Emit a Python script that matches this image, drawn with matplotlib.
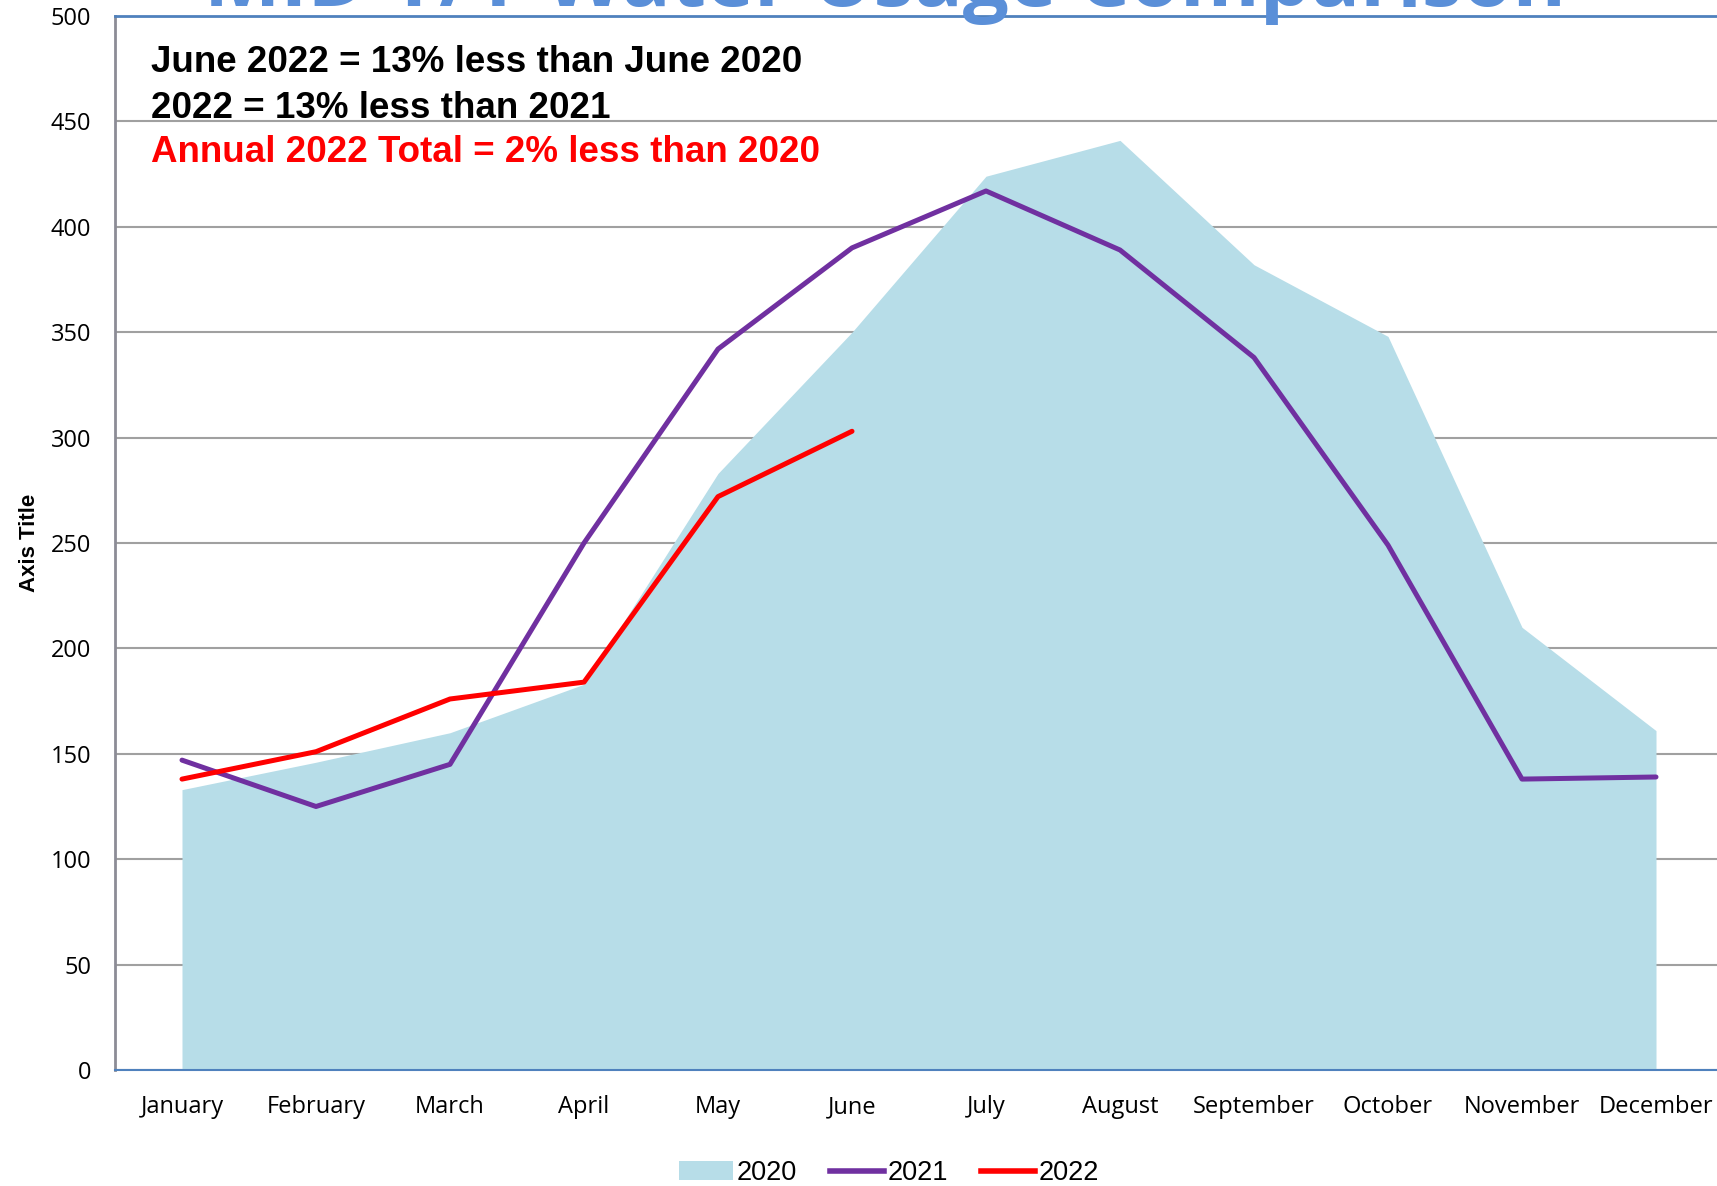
import matplotlib
matplotlib.use("Agg")
import matplotlib.pyplot as plt
from matplotlib.patches import Patch
from matplotlib.lines import Line2D

months = ["January", "February", "March", "April", "May", "June", "July",
          "August", "September", "October", "November", "December"]
usage_2020 = [133, 146, 160, 183, 283, 350, 424, 441, 382, 348, 210, 161]
usage_2021 = [147, 125, 145, 250, 342, 390, 417, 389, 338, 249, 138, 139]
usage_2022 = [138, 151, 176, 184, 272, 303]
yticks = [0, 50, 100, 150, 200, 250, 300, 350, 400, 450, 500]
title = "MID Y/Y Water Usage Comparison"
notes = ["June 2022 = 13% less than June 2020", "2022 = 13% less than 2021",
         "Annual 2022 Total = 2% less than 2020"]
note_colors = ["black", "black", "#FF0000"]

W, H = 1717, 1186
fig = plt.figure(figsize=(W / 100, H / 100), dpi=100)
left, right, top, bottom = 115, 1723, 16, 1070
ax = fig.add_axes([left / W, 1 - bottom / H, (right - left) / W, (bottom - top) / H])

x = list(range(len(months)))
ax.fill_between(x, usage_2020, 0, color="#B7DDE8", linewidth=0, zorder=2)
ax.plot(x, usage_2021, color="#7030A0", linewidth=3.6, zorder=3, solid_capstyle="round")
ax.plot(x[:len(usage_2022)], usage_2022, color="#FF0000", linewidth=3.6, zorder=4,
        solid_capstyle="round")

ax.set_xlim(-0.5, 11.5)
ax.set_ylim(0, 500)
ax.set_yticks(yticks)
ax.set_xticks(x)
ax.set_xticklabels(months, fontsize=17, family="Open Sans")
ax.set_yticklabels([str(v) for v in yticks], fontsize=17, family="Open Sans")
ax.tick_params(axis="x", length=0, pad=18)
ax.tick_params(axis="y", length=0, pad=17)
ax.grid(axis="y", color="#A0A0A0", linewidth=1.5, zorder=1)
ax.set_axisbelow(True)
ax.spines["right"].set_visible(False)
ax.spines["left"].set_color("#8C8C96")
ax.spines["left"].set_linewidth(2)
ax.spines["bottom"].set_color("#4F81BD")
ax.spines["bottom"].set_linewidth(1.5)
ax.spines["top"].set_color("#4F81BD")
ax.spines["top"].set_linewidth(2)
ax.set_ylabel("Axis Title", fontsize=16, fontweight="bold", family="Liberation Sans")
ax.yaxis.set_label_coords(-75 / (right - left), 0.5)

for i, (t, c) in enumerate(zip(notes, note_colors)):
    fig.text(151 / W, 1 - (63 + 45 * i) / H, t, fontsize=26.5, fontweight="bold",
             family="Liberation Sans", color=c, va="center", ha="left")

tt = fig.text(885 / W, 1 - 6 / H, title, fontsize=60, fontweight="bold",
              family="Open Sans", color="#5A8FD8", ha="center", va="baseline")
fig.canvas.draw()
wpx = tt.get_window_extent().width
tt.set_fontsize(60 * 1363 / wpx)

handles = [Patch(facecolor="#B7DDE8", edgecolor="none", label="2020"),
           Line2D([0], [0], color="#7030A0", linewidth=4, label="2021"),
           Line2D([0], [0], color="#FF0000", linewidth=4, label="2022")]
fig.legend(handles=handles, loc="center", bbox_to_anchor=(889 / W, 1 - 1173 / H), ncol=3,
           frameon=False, prop={"family": "Liberation Sans", "size": 19.5},
           handlelength=2.0, handletextpad=0.15, columnspacing=1.2, handleheight=0.7)

fig.savefig("out.png", dpi=100)
